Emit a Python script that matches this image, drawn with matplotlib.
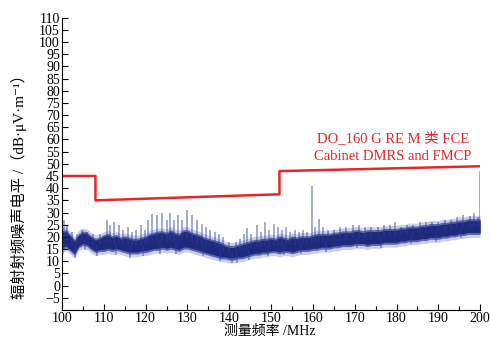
import matplotlib
matplotlib.use("Agg")
import matplotlib.pyplot as plt
import numpy as np

# ---------------- data ----------------
freq_mhz = list(range(100, 201))
noise_upper = [22.5, 23, 21, 19, 21.5, 22.5, 22, 20.5, 19.5, 20,
               21, 21.5, 20.5, 21, 20, 20.5, 20, 19.5, 19.5, 20,
               20.5, 21.5, 22, 22.5, 22.5, 22, 23, 22, 21.5, 23,
               23, 22, 21.5, 21, 20, 19.5, 19, 18.5, 18, 17,
               16.5, 16.5, 17, 17.5, 18, 18.5, 19, 19, 19.5, 19.5,
               20, 19.5, 20.5, 20, 19.5, 20.5, 20, 20.5, 20.5, 20.5,
               21, 21.5, 21.5, 21.5, 21.5, 22, 22, 22.5, 22.5, 22.5,
               23, 23, 22.5, 23, 23, 23, 23, 23.5, 23.5, 23.5,
               23.5, 24, 24, 24.5, 24.5, 24.5, 25, 25, 25.5, 25.5,
               25.5, 26, 26, 26.5, 26.5, 27, 27, 27.5, 27.5, 27.5, 27.5]
noise_lower = [15, 15.5, 14, 12.5, 15.5, 16.5, 16, 14.5, 13.5, 14,
               14, 14.5, 14, 14.5, 14, 13.5, 13, 13, 13, 13.5,
               13.5, 14, 14.5, 14.5, 15, 14.5, 15, 14.5, 14, 15,
               15, 14.5, 14, 13.5, 13, 12.5, 12, 11.5, 11, 11,
               10.5, 10.5, 11, 11, 11.5, 12, 12.5, 12.5, 13, 13,
               13.5, 13.5, 13, 13.5, 13.5, 13, 13.5, 14, 14, 14,
               14.5, 14.5, 15, 15, 15, 15.5, 15.5, 16, 16, 16,
               16.5, 16.5, 16.5, 16, 16.5, 16.5, 16.5, 17, 17, 17,
               17, 17.5, 17.5, 18, 18, 18, 18.5, 18.5, 19, 19,
               19, 19.5, 19.5, 20, 20, 20.5, 20.5, 21, 21, 21, 21]

spike_freq = [100.5, 101.2, 102.5, 103.5, 104.8, 106, 107.3, 109, 110.8, 111.6,
              112.4, 113.6, 114.6, 115.8, 116.8, 117.8, 118.8, 119.8, 120.6, 121.6,
              122.8, 124, 125, 125.8, 126.8, 127.8, 128.8, 129.8, 131, 132.2,
              133.4, 134.4, 135.5, 136.5, 137.5, 138.6, 140, 141.5, 142.5, 143.5,
              144.2, 145.2, 146.6, 147.6, 148.6, 149.6, 150.6, 151.6, 152.6, 153.6,
              154.6, 155.6, 156.6, 157.6, 158.6, 159.7, 160.6, 161.5, 162.5, 163.5,
              165, 166.5, 168, 169.5, 171, 172.5, 174, 175.5, 177, 178.5,
              179.7, 181, 182.5, 184, 185.5, 187, 188.5, 190, 191.5, 193,
              194.5, 196, 197.5, 198.5, 199.5, 199.9]
spike_peak = [27, 25, 22, 21, 23, 22, 21, 21, 27, 25,
              26, 25, 23, 24, 22, 23, 25, 23, 27, 29.5,
              29, 30, 27, 30, 27, 29, 27, 31, 29, 27,
              25.5, 24, 23, 22, 21, 20, 18, 18, 19, 21,
              23.5, 21, 25, 22, 26, 23, 25.5, 24, 23, 24,
              22, 23, 22, 23, 22, 41, 24, 27.5, 24, 23,
              23, 24, 24, 25, 25, 24, 24, 24, 25, 25,
              26, 24, 25, 25, 26, 26, 26, 26, 27, 27,
              28, 29, 28.5, 30, 28, 47]
dip_freq = [100.3, 103.2, 105.5, 108.4, 112.8, 116.3, 119.3, 123.5, 127.3, 133.8,
            137.8, 140.6, 141.8, 144.8, 149.2, 153.2, 157.2, 163.2, 170.5, 176.3,
            183.5, 189.5, 195.5]
dip_low = [13, 11.5, 14.5, 12, 12.5, 11.5, 12, 13, 13, 12,
           10, 9.5, 9.5, 10.5, 12, 12.5, 13, 14, 15.5, 15.5,
           17, 18, 19.5]

limit_freq = [100, 108, 108, 152, 152, 200]
limit_level = [45, 45, 35, 37.5, 47, 49]

limit_label = "DO_160 G RE M 类 FCE\nCabinet DMRS and FMCP"
x_label = "测量频率 /MHz"
y_label = "辐射射频噪声电平 /（dB·μV·m⁻¹）"

# ---------------- figure ----------------
serif = ['Liberation Serif', 'Noto Sans CJK SC', 'DejaVu Sans']
plt.rcParams['font.family'] = serif

fig = plt.figure(figsize=(4.9, 3.39), dpi=100)
ax = fig.add_axes([0.1265, 0.0855, 0.8535, 0.8625])

f = np.array(freq_mhz, dtype=float)
up = np.array(noise_upper, dtype=float)
lo = np.array(noise_lower, dtype=float)
mid = (up + lo) / 2
navy = '#0b1570'

# light envelope and dark core
ax.fill_between(f, lo - 1.2, up + 1.2, color='#4a5fc0', alpha=0.30, lw=0)
ax.fill_between(f, lo, up, color=navy, alpha=0.55, lw=0)
ax.fill_between(f, lo + 0.8, up - 0.8, color=navy, alpha=0.75, lw=0)

# spikes and dips
sf = np.array(spike_freq)
sp = np.array(spike_peak)
ax.vlines(sf, np.interp(sf, f, mid), sp, color='#2a3a9a', alpha=0.55, lw=1.1)
df = np.array(dip_freq)
dl = np.array(dip_low)
ax.vlines(df, dl, np.interp(df, f, mid), color='#2a3a9a', alpha=0.5, lw=1.1)

# limit line
ax.plot(limit_freq, limit_level, color='#e8262a', lw=1.8)
fig.text(393 / 490, 1 - 147 / 339, limit_label, color='#e8262a', ha='center',
         va='center', fontsize=10.5, linespacing=1.45, family=serif)

ax.set_xlim(100, 200)
ax.set_ylim(-10, 110)
ax.set_xticks(range(100, 201, 10))
ax.set_xticks(range(105, 200, 10), minor=True)
ax.set_yticks(range(-5, 111, 5))
ax.tick_params(axis='both', direction='in', labelsize=10, length=4, width=0.8, pad=1.5)
ax.tick_params(axis='x', which='minor', direction='in', length=3, width=0.8)
for s in ['top', 'right']:
    ax.spines[s].set_visible(False)
for s in ['left', 'bottom']:
    ax.spines[s].set_linewidth(0.8)

fig.text(270 / 490, 1 - 331 / 339, x_label, ha='center', va='center',
         fontsize=10, family=serif)
fig.text(19 / 490, 1 - 183 / 339, y_label, ha='center', va='center',
         rotation=90, fontsize=11, family=serif)

fig.savefig('out.png', dpi=100)
